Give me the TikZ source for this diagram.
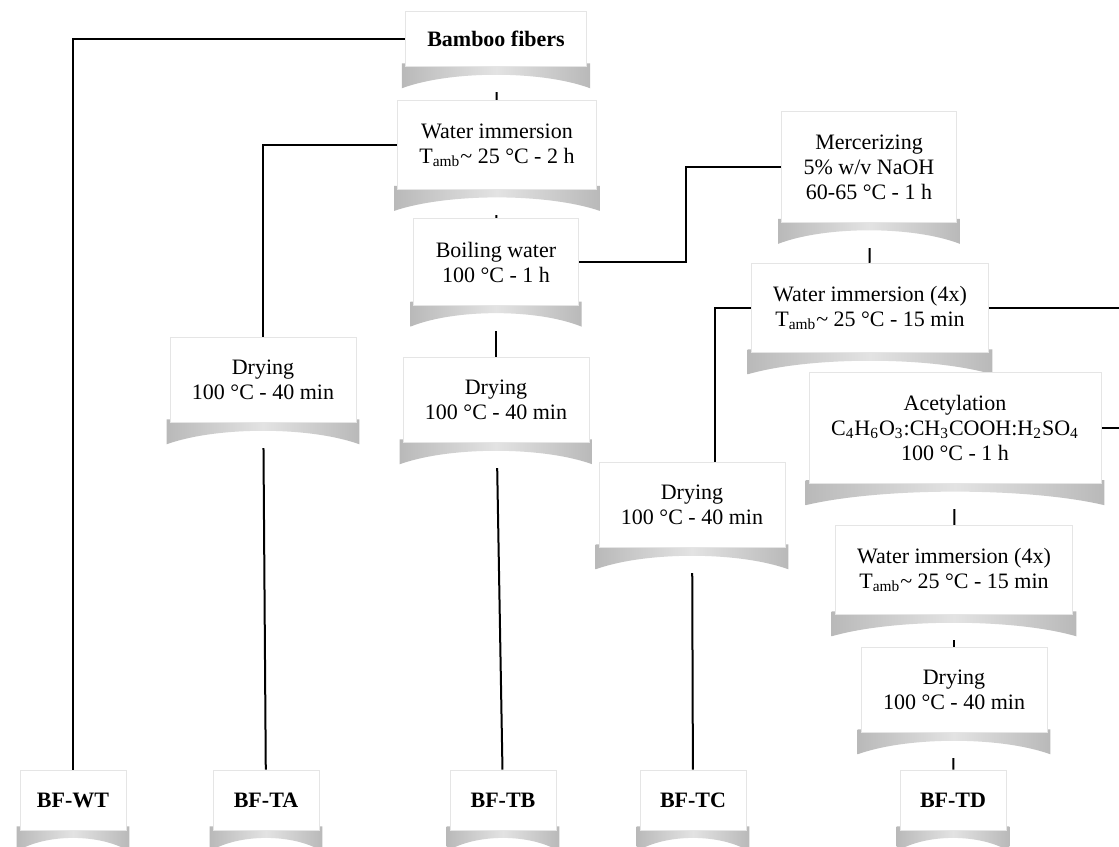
\documentclass[tikz,border=0pt]{standalone}
\usepackage{fontspec}
\setmainfont{Liberation Serif}
\usepackage{tikz}
\usetikzlibrary{calc, backgrounds}

\begin{document}
\begin{tikzpicture}[x=0.5pt, y=-0.5pt,
  every node/.style={font=\fontsize{11}{12.5}\selectfont},
  stage/.style={fill=white, draw=gray!20, align=center, inner xsep=11pt, inner ysep=11.5pt},
  sample/.style={fill=white, draw=gray!20, font=\fontsize{11}{12.5}\selectfont\bfseries, minimum width=53pt, minimum height=30pt},
  link/.style={line width=1pt}]
\useasboundingbox (0,0) rectangle (1119,846);
\clip (0,0) rectangle (1119,846);
% process boxes
\node[stage, font=\fontsize{11}{12.5}\selectfont\bfseries, inner ysep=10pt] (bamboo) at (496,39) {Bamboo fibers};
\node[stage] (wimm) at (497,145) {Water immersion\\T\textsubscript{amb}\textasciitilde{} 25 °C - 2 h};
\node[stage] (boil) at (496,262) {Boiling water\\100 °C - 1 h};
\node[stage] (merc) at (869,167) {Mercerizing\\5\% w/v NaOH\\60-65 °C - 1 h};
\node[stage] (wimmA) at (870,308) {Water immersion (4x)\\T\textsubscript{amb}\textasciitilde{} 25 °C - 15 min};
\node[stage] (acet) at (955,428) {Acetylation\\C\textsubscript{4}H\textsubscript{6}O\textsubscript{3}:CH\textsubscript{3}COOH:H\textsubscript{2}SO\textsubscript{4}\\100 °C - 1 h};
\node[stage] (wimmB) at (954,570) {Water immersion (4x)\\T\textsubscript{amb}\textasciitilde{} 25 °C - 15 min};
\node[stage] (dryD) at (954,690) {Drying\\100 °C - 40 min};
\node[stage] (dryA) at (263,380) {Drying\\100 °C - 40 min};
\node[stage] (dryB) at (496,400) {Drying\\100 °C - 40 min};
\node[stage] (dryC) at (692,505) {Drying\\100 °C - 40 min};
% samples
\node[sample] (bfwt) at (73,800) {BF-WT};
\node[sample] (bfta) at (266,800) {BF-TA};
\node[sample] (bftb) at (503,800) {BF-TB};
\node[sample] (bftc) at (693,800) {BF-TC};
\node[sample] (bftd) at (953,800) {BF-TD};

\begin{scope}[on background layer]
% connectors
\draw[link] (bamboo.west) -| (bfwt.north);
\draw[link] (bamboo) -- (wimm);
\draw[link] (wimm.west) -| (dryA.north);
\draw[link] (dryA) -- (bfta);
\draw[link] (wimm) -- (boil);
\draw[link] (boil) -- (dryB);
\draw[link] (dryB) -- (bftb);
\draw[link] (boil.east) -| ([xshift=-47.5pt]merc.west) -- (merc.west);
\draw[link] (merc) -- (wimmA);
\draw[link] (wimmA.west) -| ([xshift=11.5pt]dryC.north);
\draw[link] (dryC) -- (bftc);
\draw[link] (wimmA.east) -- ++(150,0) |- (acet.east);
\draw[link] (acet) -- (wimmB);
\draw[link] (wimmB) -- (dryD);
\draw[link] (dryD) -- (bftd);
% curled shadows
\foreach \n in {bamboo, wimm, boil, merc, wimmA, acet, wimmB, dryD, dryA, dryB, dryC, bfwt, bfta, bftb, bftc, bftd} {
  \fill[white] ($(\n.south west)+(-4,0)$) rectangle ($(\n.south east)+(4,25)$);
  \shade[left color=gray!55, right color=gray!55, middle color=gray!22]
    ($(\n.south west)+(-3,-4)$) -- ($(\n.south west)+(-3,21)$)
    .. controls ($(\n.south west)!0.25!(\n.south east)+(0,3)$) and ($(\n.south west)!0.75!(\n.south east)+(0,3)$)
    .. ($(\n.south east)+(3,21)$) -- ($(\n.south east)+(3,-4)$) -- cycle;
}
\end{scope}
\end{tikzpicture}
\end{document}
